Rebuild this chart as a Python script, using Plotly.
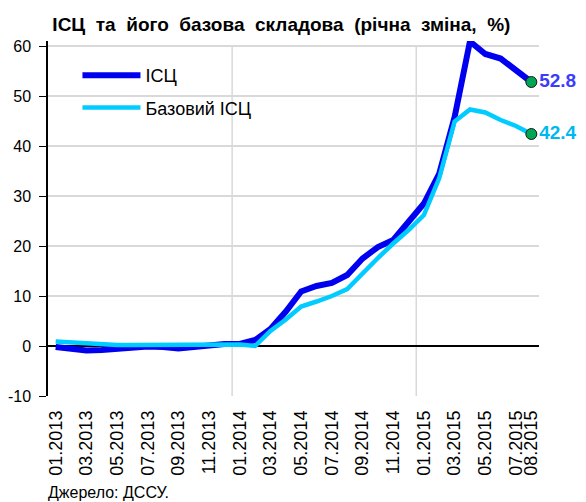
import plotly.graph_objects as go

months = ["01.2013","02.2013","03.2013","04.2013","05.2013","06.2013","07.2013","08.2013",
          "09.2013","10.2013","11.2013","12.2013",
          "01.2014","02.2014","03.2014","04.2014","05.2014","06.2014","07.2014","08.2014",
          "09.2014","10.2014","11.2014","12.2014",
          "01.2015","02.2015","03.2015","04.2015","05.2015","06.2015","07.2015","08.2015"]
cpi = [-0.2, -0.6, -0.9, -0.8, -0.5, -0.3, -0.1, -0.2, -0.5, -0.2, 0.2, 0.4,
       0.4, 1.2, 3.4, 6.9, 10.9, 12.0, 12.6, 14.2, 17.5, 19.8, 21.2, 24.9,
       28.5, 34.5, 45.8, 60.9, 58.4, 57.5, 55.3, 52.8]
core = [0.9, 0.7, 0.6, 0.3, 0.2, 0.2, 0.2, 0.2, 0.2, 0.2, 0.3, 0.3,
        0.3, 0.0, 3.0, 5.3, 7.9, 8.9, 10.0, 11.4, 14.6, 17.6, 20.5, 23.2,
        26.2, 33.6, 44.9, 47.3, 46.7, 45.2, 44.0, 42.4]
tick_labels = [m for i, m in enumerate(months) if i % 2 == 0 or i == len(months) - 1]
y_ticks = [-10, 0, 10, 20, 30, 40, 50, 60]
y_tick_labels = ["-10", "0", "10", "20", "30", "40", "50", "60"]

FONT = "Liberation Sans, Arial, sans-serif"
C_CPI = "#0000f0"
C_CORE = "#00ccff"

idx = list(range(len(months)))
tickvals = [i for i, m in enumerate(months) if m in tick_labels]

fig = go.Figure()
fig.add_trace(go.Scatter(x=idx, y=cpi, mode="lines", name="ІСЦ", legendgroup="a",
                         line=dict(color=C_CPI, width=6)))
fig.add_trace(go.Scatter(x=idx, y=core, mode="lines", name="Базовий ІСЦ", legendgroup="b",
                         line=dict(color=C_CORE, width=4.5)))
# end markers + labels
fig.add_trace(go.Scatter(x=[idx[-1]], y=[cpi[-1]], mode="markers+text",
                         marker=dict(size=11, color="#00a651", line=dict(color="#1a1a1a", width=1)),
                         text=[f"<b>{cpi[-1]}</b>"], textposition="middle right",
                         textfont=dict(color="#3c3cff", size=19, family=FONT),
                         showlegend=False, cliponaxis=False))
fig.add_trace(go.Scatter(x=[idx[-1]], y=[core[-1]], mode="markers+text",
                         marker=dict(size=11, color="#00a651", line=dict(color="#1a1a1a", width=1)),
                         text=[f"<b>{core[-1]}</b>"], textposition="middle right",
                         textfont=dict(color="#00b8f0", size=19, family=FONT),
                         showlegend=False, cliponaxis=False))

# vertical year gridlines (between December and January)
for i, m in enumerate(months):
    if m.startswith("01.") and i > 0:
        fig.add_shape(type="line", xref="x", yref="y", x0=i - 0.5, x1=i - 0.5, y0=-10, y1=60,
                      line=dict(color="#d9d9d9", width=1.5), layer="below")

fig.update_layout(
    width=578, height=494,
    margin=dict(l=40, r=47, t=33, b=106),
    paper_bgcolor="white", plot_bgcolor="white",
    font=dict(family=FONT, size=17, color="#000000"),
    title=dict(text="<b>ІСЦ  та  його  базова  складова  (річна  зміна,  %)</b>",
               x=0.473, xanchor="center", y=0.966, yanchor="middle",
               font=dict(size=19, family=FONT, color="#000000")),
    legend=dict(x=0.06, y=0.955, xanchor="left", yanchor="top",
                bgcolor="rgba(0,0,0,0)", font=dict(size=18, family=FONT),
                tracegroupgap=6, traceorder="grouped", itemwidth=58),
    showlegend=True,
    annotations=[dict(text="Джерело: ДССУ.", xref="paper", yref="paper",
                      x=0, y=-0.272, xanchor="left", yanchor="middle", xshift=-2,
                      showarrow=False, font=dict(size=16, family=FONT))],
)
fig.update_xaxes(range=[-0.5, len(months) - 0.5], tickvals=tickvals, ticktext=tick_labels,
                 tickangle=-90, tickfont=dict(size=18, family=FONT), showgrid=False,
                 showline=False, zeroline=False, ticks="", ticklabelstandoff=10,
                 automargin=False, fixedrange=True)
fig.update_yaxes(range=[-10, 61], tickvals=y_ticks, ticktext=y_tick_labels,
                 showgrid=True, gridcolor="#d9d9d9", gridwidth=1.5,
                 zeroline=True, zerolinecolor="#000000", zerolinewidth=1.5,
                 showline=True, linecolor="#000000", linewidth=1.5,
                 ticks="outside", ticklen=7, tickcolor="#000000", ticklabelstandoff=5,
                 tickfont=dict(size=16, family=FONT), automargin=False, fixedrange=True)

fig.write_html("out.html")
